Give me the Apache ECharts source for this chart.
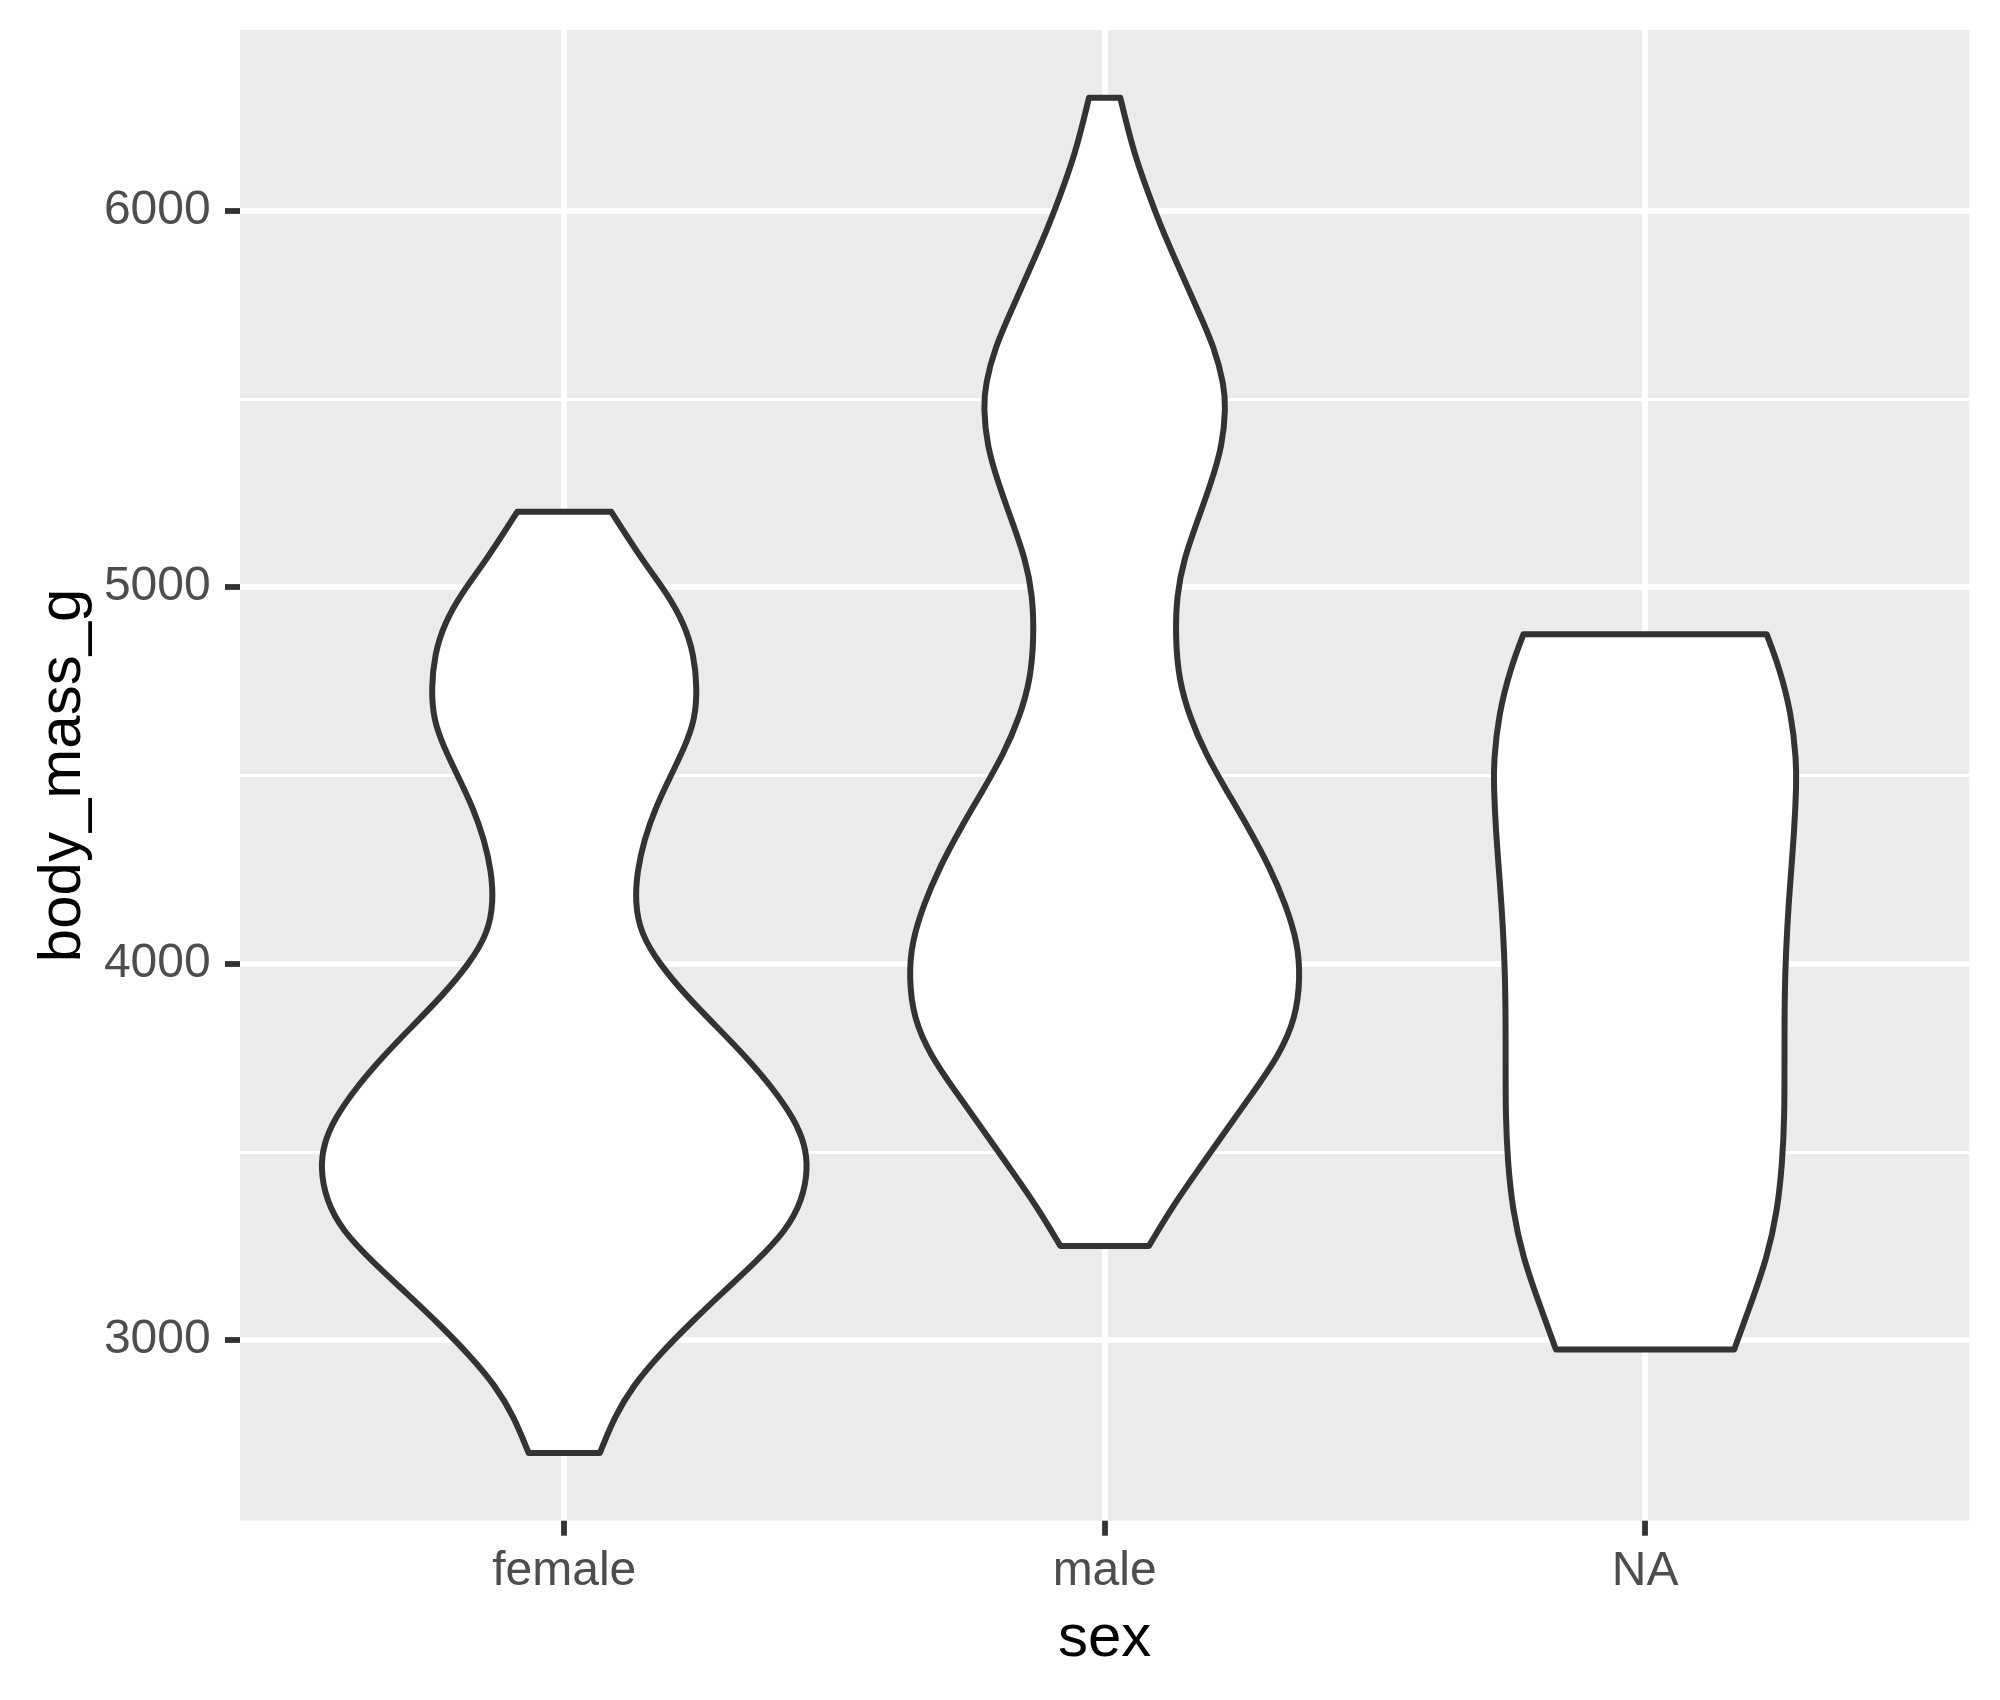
<!DOCTYPE html>
<html>
<head>
<meta charset="utf-8">
<script src="https://cdn.jsdelivr.net/npm/echarts@6/dist/echarts.min.js"></script>
<style>
  html, body { margin: 0; padding: 0; background: #ffffff; }
  #chart { width: 2000px; height: 1700px; }
</style>
</head>
<body>
<div id="chart"></div>
<script>
// ---- data ----
const categories = ['female', 'male', 'NA'];

// body mass (g) along each violin outline, top to bottom
const femaleMass = [5200, 5068, 4986, 4903, 4821, 4730, 4649, 4575, 4493, 4411, 4329, 4246, 4164, 4081, 3999, 3914, 3834, 3751, 3669, 3586, 3521, 3456, 3373, 3291, 3208, 3126, 3043, 2961, 2878, 2796, 2700];
// violin half-width (in category units) at those masses
const femaleHalf = [0.087, 0.146, 0.189, 0.222, 0.240, 0.246, 0.242, 0.223, 0.195, 0.168, 0.148, 0.135, 0.131, 0.141, 0.176, 0.226, 0.281, 0.337, 0.386, 0.426, 0.445, 0.451, 0.441, 0.411, 0.355, 0.293, 0.232, 0.176, 0.127, 0.093, 0.066];

const maleMass = [6300, 6217, 6138, 6037, 5937, 5837, 5737, 5637, 5537, 5477, 5377, 5277, 5177, 5077, 4977, 4866, 4756, 4656, 4556, 4456, 4356, 4257, 4157, 4056, 3966, 3856, 3757, 3656, 3556, 3456, 3356, 3250];
const maleHalf = [0.029, 0.043, 0.058, 0.083, 0.110, 0.141, 0.172, 0.203, 0.221, 0.224, 0.218, 0.197, 0.172, 0.147, 0.133, 0.131, 0.137, 0.157, 0.187, 0.227, 0.268, 0.305, 0.335, 0.357, 0.362, 0.354, 0.323, 0.274, 0.224, 0.175, 0.126, 0.082];

const naMass = [4875, 4789, 4663, 4537, 4474, 4349, 4223, 4098, 3972, 3847, 3721, 3596, 3470, 3345, 3219, 3093, 2975];
const naHalf = [0.225, 0.248, 0.271, 0.280, 0.280, 0.276, 0.269, 0.263, 0.259, 0.258, 0.258, 0.258, 0.254, 0.245, 0.226, 0.195, 0.165];

const yMajorTicks = [3000, 4000, 5000, 6000];
const yMinorTicks = [3500, 4500, 5500];
const xTicks = [1, 2, 3];

// ---- chart ----
const violins = [
  { mass: femaleMass, half: femaleHalf },
  { mass: maleMass, half: maleHalf },
  { mass: naMass, half: naHalf }
];

// smooth cubic B-spline through the outline points (clamped at both ends),
// assumes the current path point is pts[0]
function splinePath(pts) {
  const n = pts.length;
  const q = [pts[0], pts[0]].concat(pts, [pts[n - 1], pts[n - 1]]);
  let d = '';
  for (let i = 0; i + 3 < q.length; i++) {
    const q1 = q[i + 1], q2 = q[i + 2], q3 = q[i + 3];
    const b1x = (2 * q1[0] + q2[0]) / 3, b1y = (2 * q1[1] + q2[1]) / 3;
    const b2x = (q1[0] + 2 * q2[0]) / 3, b2y = (q1[1] + 2 * q2[1]) / 3;
    const b3x = (q1[0] + 4 * q2[0] + q3[0]) / 6, b3y = (q1[1] + 4 * q2[1] + q3[1]) / 6;
    d += ' C' + b1x + ' ' + b1y + ' ' + b2x + ' ' + b2y + ' ' + b3x + ' ' + b3y;
  }
  return d;
}

const chart = echarts.init(document.getElementById('chart'), null, { renderer: 'canvas' });
const FONT = '"Liberation Sans", Arial, Helvetica, sans-serif';

chart.setOption({
  animation: false,
  backgroundColor: '#ffffff',
  grid: {
    left: 240, right: 30.7, top: 30, bottom: 179.3,
    show: true, backgroundColor: '#EBEBEB', borderWidth: 0
  },
  xAxis: {
    type: 'value', min: 0.4, max: 3.6,
    axisLine: { show: false },
    axisTick: { show: true, customValues: xTicks, length: 15, lineStyle: { color: '#333333', width: 5.8 } },
    axisLabel: {
      customValues: xTicks,
      formatter: v => categories[Math.round(v) - 1],
      fontSize: 48, color: '#4D4D4D', fontFamily: FONT, margin: 27
    },
    splitLine: { show: true, lineStyle: { color: '#ffffff', width: 5.8 } },
    name: 'sex', nameLocation: 'middle', nameGap: 89,
    nameTextStyle: { fontSize: 60, color: '#000000', fontFamily: FONT }
  },
  yAxis: [{
    type: 'value', min: 2520, max: 6480, position: 'left',
    axisLine: { show: false },
    axisTick: { show: true, customValues: yMajorTicks, length: 15, lineStyle: { color: '#333333', width: 5.8 } },
    axisLabel: {
      customValues: yMajorTicks,
      formatter: v => String(Math.round(v)),
      fontSize: 48, color: '#4D4D4D', fontFamily: FONT, margin: 29.3
    },
    splitLine: { show: true, lineStyle: { color: '#ffffff', width: 5.8 } },
    name: 'body_mass_g', nameLocation: 'middle', nameRotate: 90, nameGap: 136,
    nameTextStyle: { fontSize: 60, color: '#000000', fontFamily: FONT }
  }, {
    type: 'value', min: 2520, max: 6480, position: 'left', offset: 0,
    axisLine: { show: false },
    axisTick: { show: false, customValues: yMinorTicks },
    axisLabel: { show: false, customValues: yMinorTicks },
    splitLine: { show: true, lineStyle: { color: '#ffffff', width: 2.9 } }
  }],
  series: [{
    type: 'custom',
    coordinateSystem: 'cartesian2d',
    xAxisIndex: 0, yAxisIndex: 0,
    z: 10,
    silent: true,
    data: violins.map((v, i) => [i + 1, v.mass[v.mass.length - 1], v.mass[0]]),
    encode: { x: 0, y: [1, 2] },
    renderItem: function (params, api) {
      const i = params.dataIndex;
      const v = violins[i];
      const cx = api.value(0);
      const right = v.mass.map((m, k) => api.coord([cx + v.half[k], m]));
      const left = v.mass.map((m, k) => api.coord([cx - v.half[k], m]));
      const leftUp = left.slice().reverse();
      let d = 'M' + left[0][0] + ' ' + left[0][1];
      d += ' L' + right[0][0] + ' ' + right[0][1];
      d += splinePath(right);
      d += ' L' + leftUp[0][0] + ' ' + leftUp[0][1];
      d += splinePath(leftUp);
      d += ' Z';
      return {
        type: 'path',
        shape: { pathData: d },
        style: { fill: '#ffffff', stroke: '#333333', lineWidth: 6, lineJoin: 'round' }
      };
    }
  }]
});
</script>
</body>
</html>
